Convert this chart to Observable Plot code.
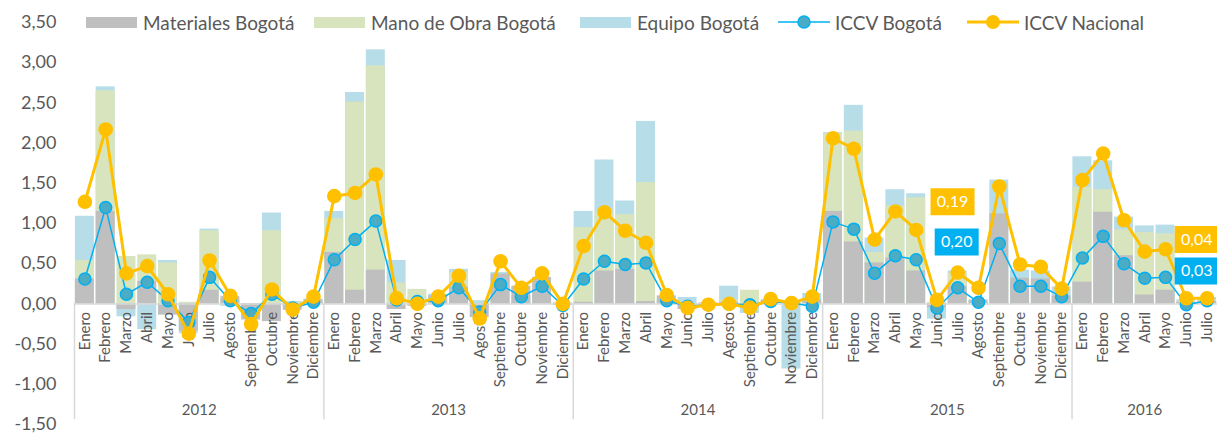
<!DOCTYPE html>
<html>
<head>
<meta charset="utf-8">
<script src="https://cdn.jsdelivr.net/npm/d3@7"></script>
<script src="https://cdn.jsdelivr.net/npm/@observablehq/plot@0.6"></script>
<style>
  body { margin: 0; background: #fff; }
  #wrap { position: relative; width: 1217px; height: 438px; font-family: Lato, "Open Sans", sans-serif; color: #595959; }
  #chart svg { display: block; }
  .leg { position: absolute; top: 11px; height: 22px; display: flex; align-items: center; font-size: 19px; white-space: nowrap; }
  .sw { display: inline-block; width: 51px; height: 11px; margin-right: 6px; }
  .ln { display: inline-block; width: 52px; height: 16px; margin-right: 5px; }
</style>
</head>
<body>
<div id="wrap">
  <div id="chart"></div>
  <div class="leg" style="left:86px"><span class="sw" style="background:#BFBFBF"></span>Materiales Bogotá</div>
  <div class="leg" style="left:314px"><span class="sw" style="background:#D7E4BD"></span>Mano de Obra Bogotá</div>
  <div class="leg" style="left:580px"><span class="sw" style="background:#B7DDE8"></span>Equipo Bogotá</div>
  <div class="leg" style="left:778px"><svg class="ln" viewBox="0 0 52 16"><line x1="0" y1="8" x2="52" y2="8" stroke="#00B0F0" stroke-width="1.5"/><circle cx="26" cy="8" r="6" fill="#4BACC6" stroke="#00B0F0" stroke-width="1.5"/></svg>ICCV Bogotá</div>
  <div class="leg" style="left:967px"><svg class="ln" viewBox="0 0 52 16"><line x1="0" y1="8" x2="52" y2="8" stroke="#FFC000" stroke-width="3"/><circle cx="26" cy="8" r="7" fill="#FFC000"/></svg>ICCV Nacional</div>
</div>
<script>
// ---- Data ----
const monthNames = ["Enero","Febrero","Marzo","Abril","Mayo","Junio","Julio","Agosto","Septiembre","Octubre","Noviembre","Diciembre"];
const years = [2012, 2013, 2014, 2015, 2016];
const monthsPerYear = [12, 12, 12, 12, 7];

const materiales = [
  0.31, 1.15, -0.07, 0.28, -0.14, -0.34, 0.17, 0.09, -0.20, -0.22, -0.08, 0.05,
  0.64, 0.17, 0.42, -0.07, -0.03, 0.10, 0.21, -0.17, 0.37, 0.22, 0.33, -0.02,
  0.02, 0.41, 0.43, 0.03, 0.10, -0.07, 0.01, 0.02, -0.05, 0.05, 0.03, 0.05,
  1.15, 0.77, 0.51, 0.57, 0.41, -0.05, 0.22, 0.05, 1.12, 0.32, 0.31, 0.10,
  0.27, 1.14, 0.60, 0.11, 0.17, 0.02, 0.03
];
const manoObra = [
  0.54, 2.65, 0.59, 0.61, 0.51, 0.02, 0.91, 0.05, -0.05, 0.91, 0.02, 0.03,
  1.06, 2.51, 2.96, 0.26, 0.18, 0.05, 0.39, -0.05, 0.10, 0.05, 0.05, 0.02,
  0.95, 1.15, 1.11, 1.51, 0.05, -0.02, 0.01, 0.05, 0.17, 0.02, 0.01, 0.03,
  2.12, 2.15, 0.64, 1.22, 1.32, 0.02, 0.38, 0.03, 0.60, 0.10, 0.10, 0.05,
  1.45, 1.42, 0.92, 0.89, 0.87, 0.03, 0.04
];
const equipo = [
  1.09, 2.70, -0.16, -0.32, 0.54, -0.37, 0.93, -0.03, -0.10, 1.13, 0.03, 0.06,
  1.15, 2.63, 3.16, 0.54, 0.08, 0.12, 0.43, 0.04, 0.39, 0.10, 0.10, 0.01,
  1.15, 1.79, 1.28, 2.27, 0.06, 0.08, 0.00, 0.22, -0.12, 0.03, -0.81, 0.13,
  2.13, 2.47, 0.82, 1.42, 1.37, -0.19, 0.41, 0.02, 1.54, 0.42, 0.41, 0.21,
  1.83, 1.78, 1.08, 0.97, 0.98, 0.05, 0.08
];
const iccvBogota = [
  0.31, 1.20, 0.12, 0.27, 0.04, -0.23, 0.33, 0.04, -0.12, 0.12, -0.05, 0.02,
  0.55, 0.80, 1.03, 0.05, 0.03, 0.04, 0.20, -0.10, 0.24, 0.09, 0.22, -0.02,
  0.31, 0.53, 0.49, 0.51, 0.04, -0.03, -0.01, 0.00, -0.01, 0.03, 0.01, -0.03,
  1.02, 0.93, 0.38, 0.60, 0.55, -0.05, 0.20, 0.02, 0.75, 0.22, 0.22, 0.09,
  0.57, 0.84, 0.50, 0.32, 0.33, -0.01, 0.04
];
const iccvNacional = [
  1.27, 2.17, 0.38, 0.47, 0.12, -0.37, 0.54, 0.10, -0.25, 0.18, -0.07, 0.09,
  1.34, 1.38, 1.61, 0.07, 0.00, 0.09, 0.35, -0.18, 0.53, 0.20, 0.38, 0.00,
  0.72, 1.14, 0.91, 0.76, 0.11, -0.05, -0.01, 0.00, -0.05, 0.06, 0.01, 0.09,
  2.06, 1.93, 0.80, 1.15, 0.92, 0.05, 0.39, 0.20, 1.46, 0.49, 0.46, 0.19,
  1.54, 1.87, 1.04, 0.65, 0.68, 0.07, 0.07
];
const yTicks = [-1.5, -1, -0.5, 0, 0.5, 1, 1.5, 2, 2.5, 3, 3.5];

// callout labels (anchored in data space: month position, value)
const annText = ["0,19", "0,20", "0,04", "0,03"];
const annSeries = ["nacional", "bogota", "nacional", "bogota"];
const annMonth = [42.25, 42.45, 54.0, 54.0];
const annValue = [1.27, 0.77, 0.80, 0.41];

// ---- Build tables ----
const rows = [];
const yearStarts = [];
let k = 0;
years.forEach((yr, j) => {
  yearStarts.push(k);
  for (let m = 0; m < monthsPerYear[j]; m++) {
    rows.push({ i: k, month: monthNames[m], year: yr,
      mat: materiales[k], mo: manoObra[k], eq: equipo[k],
      bog: iccvBogota[k], nac: iccvNacional[k] });
    k++;
  }
});
const nMonths = k;
const yearRows = years.map((yr, j) => ({ year: String(yr), mid: yearStarts[j] + monthsPerYear[j] / 2 }));
const anns = annText.map((t, j) => ({ t, s: annSeries[j], x: annMonth[j], y: annValue[j] }));

const fmt = d => (d < 0 ? "-" : "") + Math.abs(d).toFixed(2).replace(".", ",");
const boxSymbol = { draw(ctx) { ctx.moveTo(-22, -13.5); ctx.lineTo(22, -13.5); ctx.lineTo(22, 13.5); ctx.lineTo(-22, 13.5); ctx.closePath(); } };
const serColor = { nacional: "#FFC000", bogota: "#00B0F0" };

const cx = d => d.i + 0.5;

const chart = Plot.plot({
  width: 1217,
  height: 438,
  marginLeft: 74,
  marginRight: 0,
  marginTop: 22,
  marginBottom: 14,
  style: { fontFamily: "Lato, 'Open Sans', sans-serif", color: "#595959", background: "transparent" },
  x: { domain: [0, nMonths], axis: null },
  y: { domain: [-1.5, 3.5], label: null, axis: null },
  marks: [
    Plot.axisY({ ticks: yTicks, tickFormat: fmt, tickSize: 0, tickPadding: 18, fontSize: 18, color: "#595959", label: null }),
    Plot.rectY(rows, { x1: "i", x2: d => d.i + 1, y: "eq", fill: "#B7DDE8", insetLeft: 0.9, insetRight: 0.9 }),
    Plot.rectY(rows, { x1: "i", x2: d => d.i + 1, y: "mo", fill: "#D7E4BD", insetLeft: 0.9, insetRight: 0.9 }),
    Plot.rectY(rows, { x1: "i", x2: d => d.i + 1, y: "mat", fill: "#BFBFBF", insetLeft: 0.9, insetRight: 0.9 }),
    Plot.ruleY([0], { x1: 0, x2: nMonths, stroke: "#D9D9D9", strokeWidth: 1.5 }),
    Plot.ruleX(yearStarts, { x: d => d, y1: 0, y2: -1.44, stroke: "#D9D9D9", strokeWidth: 1.5 }),
    Plot.text(rows, { x: cx, y: 0, text: "month", rotate: -90, textAnchor: "end", dy: 8, fontSize: 15, fill: "#595959" }),
    Plot.text(yearRows, { x: "mid", y: -1.32, text: "year", fontSize: 15, fill: "#595959" }),
    Plot.line(rows, { x: cx, y: "bog", stroke: "#00B0F0", strokeWidth: 1.5 }),
    Plot.dot(rows, { x: cx, y: "bog", r: 6, fill: "#4BACC6", stroke: "#00B0F0", strokeWidth: 1.5 }),
    Plot.line(rows, { x: cx, y: "nac", stroke: "#FFC000", strokeWidth: 3 }),
    Plot.dot(rows, { x: cx, y: "nac", r: 7.3, fill: "#FFC000", stroke: "none" }),
    Plot.dot(anns, { x: "x", y: "y", symbol: boxSymbol, r: 10, fill: d => serColor[d.s], stroke: "none" }),
    Plot.text(anns, { x: "x", y: "y", text: "t", fill: "#fff", fontSize: 16 })
  ]
});
document.getElementById("chart").appendChild(chart);
</script>
</body>
</html>
